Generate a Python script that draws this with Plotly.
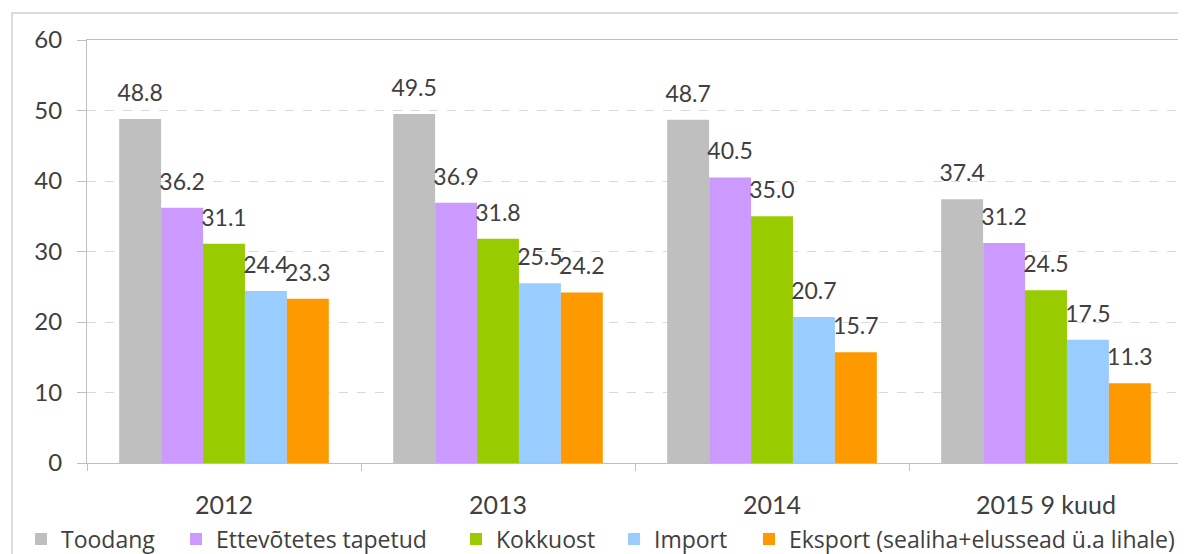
import plotly.graph_objects as go

categories = ["2012", "2013", "2014", "2015 9 kuud"]
series_names = ["Toodang", "Ettevõtetes tapetud", "Kokkuost", "Import",
                "Eksport (sealiha+elussead ü.a lihale)"]
toodang = [48.8, 49.5, 48.7, 37.4]
tapetud = [36.2, 36.9, 40.5, 31.2]
kokkuost = [31.1, 31.8, 35.0, 24.5]
import_ = [24.4, 25.5, 20.7, 17.5]
eksport = [23.3, 24.2, 15.7, 11.3]
y_ticks = [0, 10, 20, 30, 40, 50, 60]

colors = ["#BFBFBF", "#CC99FF", "#99CC00", "#99CCFF", "#FF9900"]
FONT = "Lato, 'Open Sans', sans-serif"
LFONT = "'Open Sans', Lato, sans-serif"
TXT = "#404040"
GAP = 0.235

# one legend per series, positioned like the reference
legend_x = [-0.0602, 0.0812, 0.3367, 0.4808, 0.6040]
legend_ids = ["legend", "legend2", "legend3", "legend4", "legend5"]

fig = go.Figure()
all_vals = [toodang, tapetud, kokkuost, import_, eksport]
for i, (name, vals, col) in enumerate(zip(series_names, all_vals, colors)):
    fig.add_trace(go.Bar(
        x=categories, y=vals, name=name, marker=dict(color=col, line=dict(width=0)),
        legend=legend_ids[i], offsetgroup=str(i),
    ))
for i, (name, vals) in enumerate(zip(series_names, all_vals)):
    fig.add_trace(go.Scatter(
        x=categories, y=vals, mode="markers+text", showlegend=False,
        text=[f"{v:.1f}" for v in vals], textposition="top center",
        textfont=dict(size=23, color=TXT, family=FONT),
        marker=dict(size=18, color="rgba(0,0,0,0)"),
        offsetgroup=str(i), cliponaxis=False, hoverinfo="skip",
    ))

layout_legends = {}
for lid, lx in zip(legend_ids, legend_x):
    layout_legends[lid] = dict(
        orientation="h", x=lx, xanchor="left", y=-0.1797, yanchor="middle",
        font=dict(size=23, color=TXT, family=LFONT), bgcolor="rgba(0,0,0,0)",
    )

# page body adds an 8px offset, so margins are compensated
fig.update_layout(
    width=1186, height=554,
    margin=dict(l=79, r=11, t=32, b=99, autoexpand=False),
    paper_bgcolor="white", plot_bgcolor="white",
    barmode="group", bargap=GAP, bargroupgap=0,
    scattermode="group", scattergap=GAP,
    font=dict(family=FONT, size=23, color=TXT),
    showlegend=True,
    **layout_legends,
)
fig.update_xaxes(
    showline=True, linecolor="#BFBFBF", linewidth=1, mirror=True,
    ticks="outside", tickson="boundaries", ticklen=7, tickcolor="#BFBFBF",
    tickfont=dict(size=25, color=TXT, family=FONT), ticklabelstandoff=20,
    showgrid=False, automargin=False,
)
fig.update_yaxes(
    range=[0, 60], tickvals=y_ticks, showline=True, linecolor="#BFBFBF", linewidth=1,
    ticks="outside", ticklen=9, tickcolor="#BFBFBF",
    tickfont=dict(size=24, color=TXT, family=FONT), ticklabelstandoff=10,
    showgrid=True, gridcolor="#D9D9D9", griddash="dash", gridwidth=1,
    zeroline=False, automargin=False,
)
fig.add_shape(type="rect", xref="paper", yref="paper",
              x0=-0.0684, x1=1.05, y0=-0.5, y1=1.0638,
              line=dict(color="#D0D0D0", width=1.5), fillcolor="rgba(0,0,0,0)", layer="below")

fig.write_html("out.html")
